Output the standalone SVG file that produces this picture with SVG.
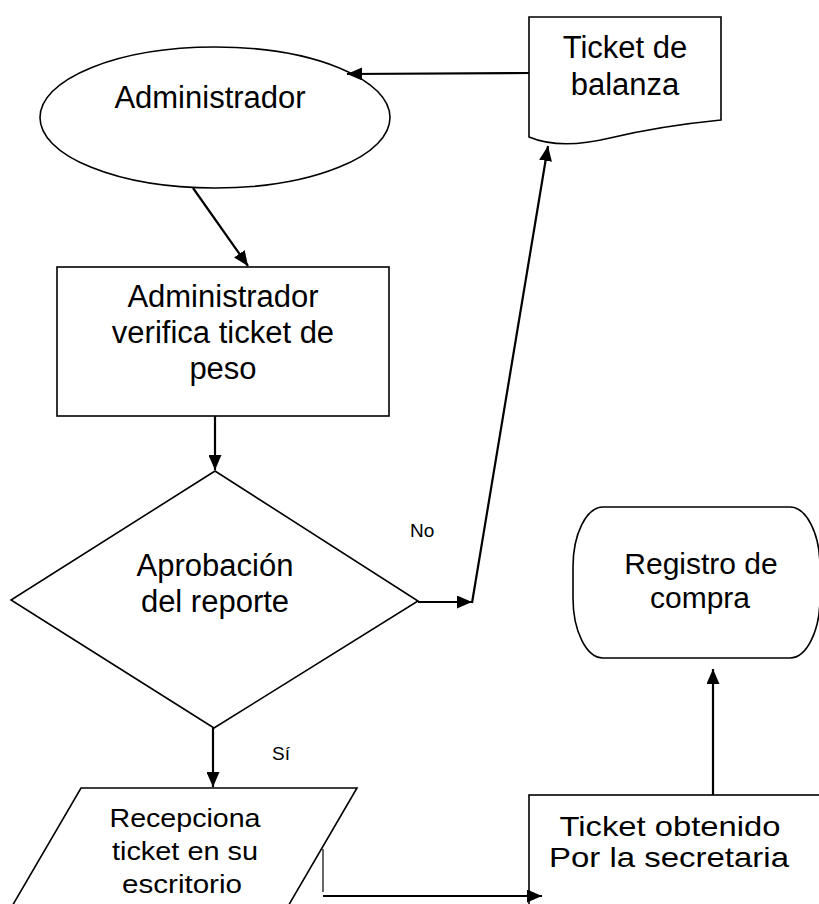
<svg xmlns="http://www.w3.org/2000/svg" width="819" height="904" viewBox="0 0 819 904">
<defs>
<style>
.shape{fill:#fff;stroke:#000;stroke-width:1.6}
.conn{fill:none;stroke:#000;stroke-width:2.2}
.thin{fill:none;stroke:#000;stroke-width:1.2}
text{font-family:"Liberation Sans",Arial,sans-serif;fill:#000;text-anchor:middle}
.big{font-size:31px}
.lbl{font-size:19px;text-anchor:start}
</style>
<marker id="arr" markerUnits="userSpaceOnUse" markerWidth="15" markerHeight="13" refX="15" refY="6.5" orient="auto">
<path d="M0,0 L15,6.5 L0,13 z" fill="#000"/>
</marker>
</defs>
<rect width="819" height="904" fill="#fff"/>

<g id="ticket-balanza">
<path class="shape" d="M529,137 V17 H721 V120 Q660,126 610,138 Q560,150 529,137 Z"/>
<text class="big" x="625" y="58">Ticket de</text>
<text class="big" x="625" y="95">balanza</text>
</g>

<g id="administrador">
<ellipse class="shape" cx="215" cy="117.5" rx="175" ry="70.5"/>
<text class="big" x="210" y="108">Administrador</text>
</g>

<g id="verifica">
<rect class="shape" x="57" y="267" width="332" height="149"/>
<text class="big" x="223" y="307">Administrador</text>
<text class="big" x="223" y="343">verifica ticket de</text>
<text class="big" x="223" y="379">peso</text>
</g>

<g id="aprobacion">
<polygon class="shape" points="215,471 418,601 214,728 11,600"/>
<text class="big" x="215" y="576">Aprobación</text>
<text class="big" x="215" y="612">del reporte</text>
</g>

<g id="recepciona">
<polygon class="shape" points="81,788 357,788 280,920 4,920"/>
<text x="185" y="827" font-size="26" textLength="151" lengthAdjust="spacingAndGlyphs">Recepciona</text>
<text x="185" y="860" font-size="26" textLength="146" lengthAdjust="spacingAndGlyphs">ticket en su</text>
<text x="182" y="893" font-size="26" textLength="120" lengthAdjust="spacingAndGlyphs">escritorio</text>
</g>

<g id="ticket-obtenido">
<rect class="shape" x="529" y="795" width="310" height="130"/>
<text x="670" y="836" font-size="28" textLength="221" lengthAdjust="spacingAndGlyphs">Ticket obtenido</text>
<text x="669" y="867" font-size="28" textLength="240" lengthAdjust="spacingAndGlyphs">Por la secretaria</text>
</g>

<g id="registro">
<rect class="shape" x="573" y="507" width="247" height="151" rx="30" ry="60"/>
<text x="701" y="574" font-size="30">Registro de</text>
<text x="700" y="608" font-size="30">compra</text>
</g>

<g id="connectors">
<line class="conn" x1="529" y1="73" x2="347" y2="74" marker-end="url(#arr)"/>
<line class="conn" x1="193" y1="188" x2="248" y2="266" marker-end="url(#arr)"/>
<line class="conn" x1="215" y1="416" x2="215" y2="470" marker-end="url(#arr)"/>
<line class="conn" x1="418" y1="602" x2="472" y2="602" marker-end="url(#arr)"/>
<line class="conn" x1="472" y1="603" x2="548" y2="146" marker-end="url(#arr)"/>
<line class="conn" x1="213" y1="728" x2="213" y2="787" marker-end="url(#arr)"/>
<line class="thin" x1="323" y1="849" x2="323" y2="892"/>
<line class="conn" x1="323" y1="896" x2="542" y2="896" marker-end="url(#arr)"/>
<line class="conn" x1="713" y1="795" x2="713" y2="669" marker-end="url(#arr)"/>
<text class="lbl" x="410" y="537">No</text>
<text class="lbl" x="272" y="760" font-size="18">Sí</text>
</g>
</svg>
